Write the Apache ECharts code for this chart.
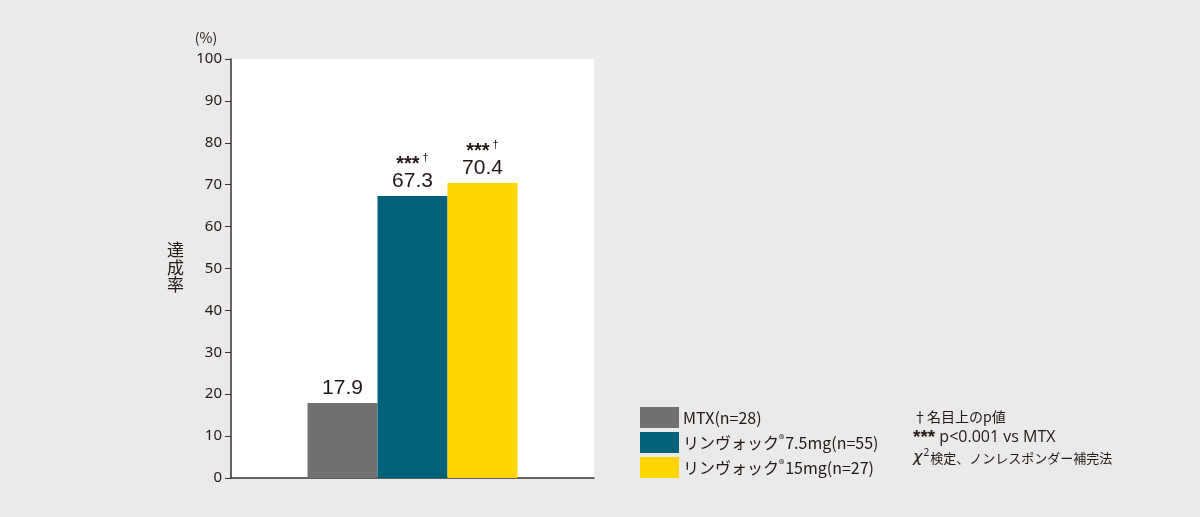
<!DOCTYPE html>
<html><head><meta charset="utf-8">
<script src="https://cdn.jsdelivr.net/npm/echarts@6/dist/echarts.min.js"></script>
<style>html,body{margin:0;padding:0;background:#EAEAEA;}#c{width:1200px;height:517px;}</style>
</head><body><div id="c"></div>
<script>
const categories = [''];
const seriesNames = ['MTX(n=28)', 'リンヴォック®7.5mg(n=55)', 'リンヴォック®15mg(n=27)'];
const seriesValues = [[17.9], [67.3], [70.4]];
const seriesMarks = ['', '***†', '***†'];
const colors = ['#717171', '#006278', '#FFD500'];
const notes = ['†名目上のp値', '*** p<0.001 vs MTX', 'χ²検定、ノンレスポンダー補完法'];

const txt = '#231815';
const chart = echarts.init(document.getElementById('c'));
const series = seriesNames.map((n, i) => ({
  name: n, type: 'bar', data: seriesValues[i], barWidth: 70, barGap: '0%',
  itemStyle: { color: colors[i] },
  label: {
    show: true, position: 'top', distance: 2, color: txt,
    fontFamily: 'Liberation Sans, Arial', lineHeight: 26,
    formatter: p => seriesMarks[i] ? '{s|' + seriesMarks[i].slice(0, 3) + '}{d|' + seriesMarks[i].slice(3) + '}\n' + p.value.toFixed(1) : p.value.toFixed(1),
    fontSize: 21,
    rich: {
      s: { fontSize: 20, fontWeight: 'bold', color: txt, fontFamily: 'Liberation Sans', lineHeight: 16, padding: [8,0,0,0] },
      d: { fontSize: 11, color: txt, verticalAlign: 'top', lineHeight: 14, padding: [0,0,0,3] }
    }
  }
}));
chart.setOption({
  backgroundColor: '#EAEAEA',
  animation: false,
  grid: { left: 231, right: 606, top: 59, bottom: 39, show: true, backgroundColor: '#fff', borderWidth: 0 },
  xAxis: { type: 'category', data: categories,
    axisLine: { lineStyle: { color: '#3a3330', width: 1.5 } },
    axisTick: { show: false }, axisLabel: { show: false } },
  yAxis: { type: 'value', min: 0, max: 100, interval: 10,
    name: '(%)', nameLocation: 'end', nameGap: 14,
    nameTextStyle: { color: txt, fontSize: 14, align: 'center', padding: [0, 50, 0, 0], fontFamily: 'Noto Sans CJK JP' },
    axisLine: { show: true, lineStyle: { color: '#3a3330', width: 1.5 } },
    axisTick: { show: true, length: 6, lineStyle: { color: '#3a3330' } },
    splitLine: { show: false },
    axisLabel: { color: txt, fontSize: 15, margin: 9, fontFamily: 'Noto Sans' } },
  legend: {
    orient: 'vertical', left: 640, top: 407, padding: 0, itemWidth: 39, itemHeight: 21, itemGap: 4,
    icon: 'rect', data: seriesNames, selectedMode: false,
    formatter: n => n.replace('®', '{sup|®}'),
    textStyle: { color: txt, fontSize: 16, fontFamily: 'Noto Sans CJK JP', padding: [0,0,0,-1],
      rich: { sup: { fontSize: 11, verticalAlign: 'top', color: txt, padding: [0,1,7,0] } } }
  },
  series: series,
  graphic: [
    { type: 'text', left: 167, top: 241, style: { text: '達\n成\n率', fontSize: 17, lineHeight: 17.5, fill: txt, fontFamily: 'Noto Sans CJK JP' } },
    { type: 'text', left: 913, top: 410, style: { text: notes[0], fontSize: 14, fill: txt, fontFamily: 'Noto Sans CJK JP' } },
    { type: 'text', left: 913, top: 428, style: {
        text: '{a|' + notes[1].slice(0, 3) + '}{b|' + notes[1].slice(3) + '}',
        rich: {
          a: { fontSize: 19, fontWeight: 'bold', fill: txt, fontFamily: 'Liberation Sans', lineHeight: 10, verticalAlign: 'bottom' },
          b: { fontSize: 16, fill: txt, fontFamily: 'Open Sans', lineHeight: 20 }
        } } },
    { type: 'text', left: 913, top: 448, style: {
        text: '{a|χ}{sup|2}{b|' + notes[2].slice(2) + '}',
        rich: {
          a: { fontSize: 16, fill: txt, fontFamily: 'DejaVu Sans', fontStyle: 'italic', lineHeight: 20 },
          sup: { fontSize: 10, fill: txt, fontFamily: 'Noto Sans', verticalAlign: 'top', lineHeight: 20, padding: [0,1,6,1] },
          b: { fontSize: 13, fill: txt, fontFamily: 'Noto Sans CJK JP', lineHeight: 20 }
        } } }
  ]
});
</script></body></html>
